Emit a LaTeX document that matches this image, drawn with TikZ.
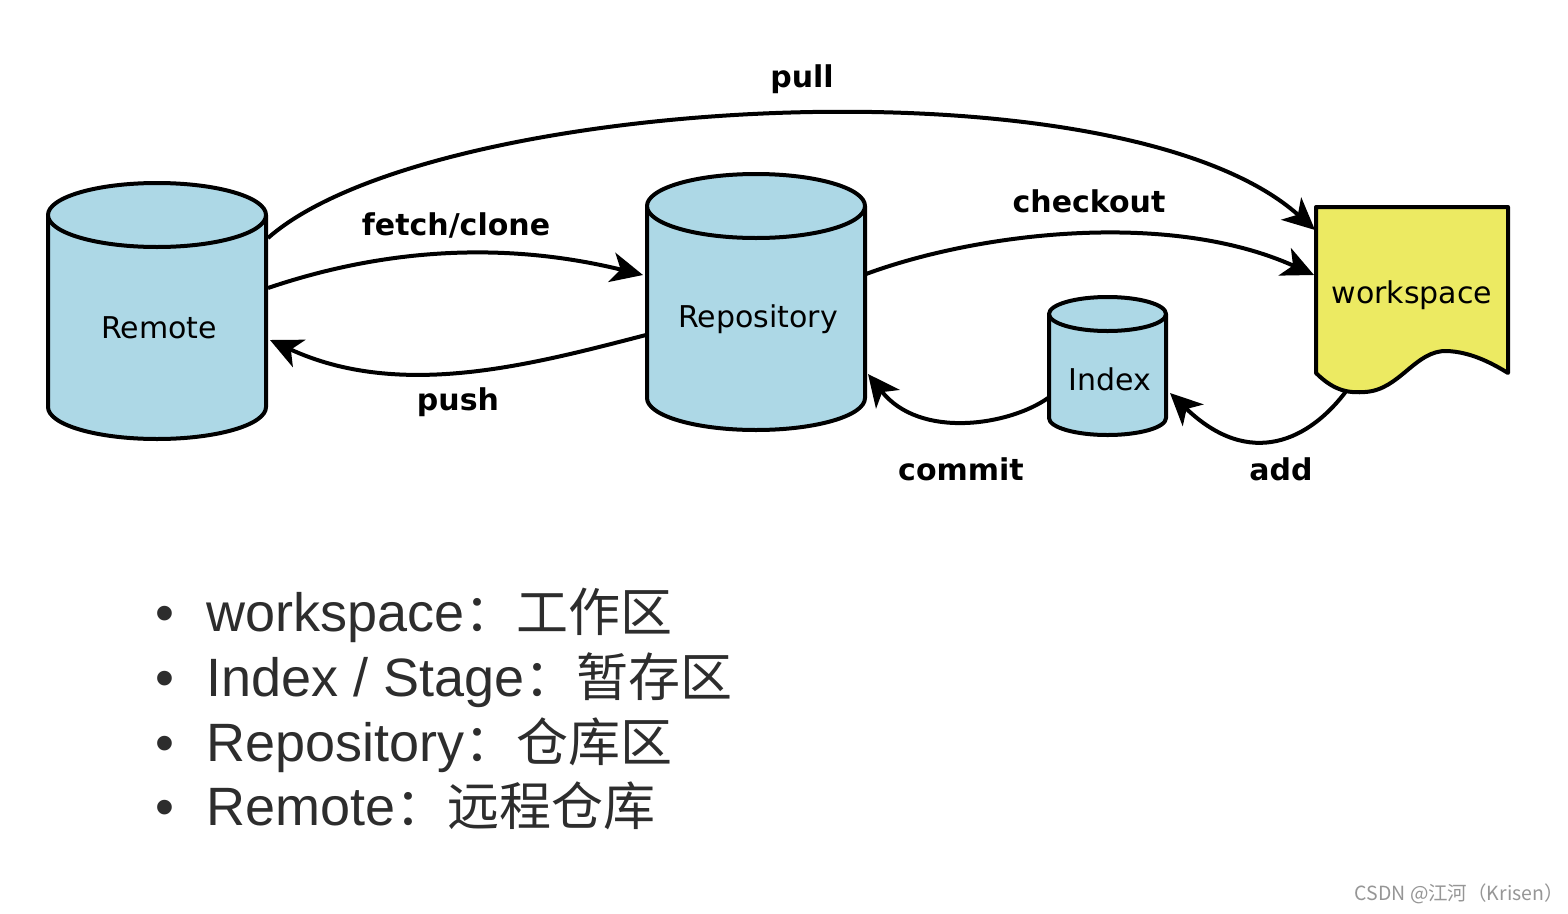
\documentclass[tikz,border=0pt]{standalone}
\usepackage{fontspec}
\setmainfont{DejaVu Sans}
\newfontfamily\arialf{Liberation Sans}
\newfontfamily\cjkf{Noto Sans CJK SC}
\usetikzlibrary{arrows.meta}
\definecolor{cylblue}{RGB}{173,216,230}
\definecolor{wsyellow}{RGB}{236,234,98}
\definecolor{listgray}{RGB}{45,45,45}
\definecolor{markgray}{RGB}{150,150,150}
\newcommand\drawcyl[5]{%
  \pgfmathsetmacro\cylcx{(#1+#2)/2}%
  \pgfmathsetmacro\cylrx{(#2-#1)/2}%
  \pgfmathsetmacro\cylkx{0.5523*\cylrx}%
  \pgfmathsetmacro\cylky{0.5523*#5}%
  \pgfmathsetmacro\cylbot{#4+#5}%
  \pgfmathsetmacro\cylbk{#4+\cylky}%
  \filldraw[cylshape] (#1,#3) -- (#1,#4) .. controls (#1,\cylbk) and (\cylcx-\cylkx,\cylbot) .. (\cylcx,\cylbot) .. controls (\cylcx+\cylkx,\cylbot) and (#2,\cylbk) .. (#2,#4) -- (#2,#3);
  \filldraw[cylshape] (\cylcx,#3) ellipse [x radius=\cylrx, y radius=#5];
}
\newcommand\cjkpart[1]{{\cjkf\fontsize{52}{60}\selectfont #1}}
\begin{document}
\begin{tikzpicture}[x=1pt,y=-1pt,line join=round,
  cylshape/.style={line width=4pt,draw=black,fill=cylblue},
  wsshape/.style={line width=4pt,draw=black,fill=wsyellow},
  flow/.style={line width=4pt,-{Stealth[length=32pt,width=30pt,inset=9pt]}},
  lbl/.style={font=\fontsize{30}{36}\selectfont\bfseries,inner sep=0pt},
  nodetext/.style={font=\fontsize{30}{36}\selectfont,inner sep=0pt},
  item/.style={anchor=base west,inner sep=0pt,font=\fontsize{54}{60}\selectfont\arialf,text=listgray},
  ]
\useasboundingbox[fill=white] (0,0) rectangle (1568,913);

% shapes
\drawcyl{48}{266}{215}{407}{32}
\drawcyl{647}{865}{206}{398}{32}
\drawcyl{1049}{1166}{314}{418}{17}
\filldraw[wsshape] (1316,207) -- (1508,207) -- (1508,373)
  .. controls (1490,362) and (1470,352) .. (1447,351)
  .. controls (1415,350) and (1400,390) .. (1365,392)
  .. controls (1350,393) and (1335,392) .. (1316,373) -- cycle;

% node texts
\node[nodetext] (remote) at (159,328) {Remote};
\node[nodetext] (repo) at (758,319) {Repository};
\node[nodetext] (index) at (1110,379) {Index};
\node[nodetext] (ws) at (1412,295) {workspace};

% connector end points
\coordinate (remote-pull) at (268,238);
\coordinate (remote-fetch) at (268,288);
\coordinate (remote-push) at (270,340);
\coordinate (repo-fetch) at (643,275);
\coordinate (repo-push) at (646,335);
\coordinate (repo-checkout) at (866,274);
\coordinate (repo-commit) at (868,374);
\coordinate (index-commit) at (1048,398);
\coordinate (index-add) at (1170,393);
\coordinate (ws-pull) at (1315,230);
\coordinate (ws-checkout) at (1314,275);
\coordinate (ws-add) at (1347,390);

% connectors
\draw[flow] (remote-pull) .. controls (430,95) and (1120,55) .. (ws-pull);
\draw[flow] (remote-fetch) .. controls (380,250) and (500,240) .. (repo-fetch);
\draw[flow] (repo-push) .. controls (530,365) and (400,400) .. (remote-push);
\draw[flow] (repo-checkout) .. controls (980,232) and (1170,210) .. (ws-checkout);
\draw[flow] (index-commit) .. controls (1010,425) and (920,440) .. (repo-commit);
\draw[flow] (ws-add) .. controls (1310,440) and (1250,470) .. (index-add);

% labels
\node[lbl] (lpull) at (802,79) {pull};
\node[lbl] (lfetch) at (456,225) {fetch/clone};
\node[lbl] (lpush) at (458,402) {push};
\node[lbl] (lcheckout) at (1089,201) {checkout};
\node[lbl] (lcommit) at (961,469) {commit};
\node[lbl] (ladd) at (1281,469) {add};

% list
\node[item] (l1) at (155,631) {•\hspace{32pt}workspace\cjkpart{：工作区}};
\node[item] (l2) at (155,696) {•\hspace{32pt}Index / Stage\cjkpart{：暂存区}};
\node[item] (l3) at (155,761) {•\hspace{32pt}Repository\cjkpart{：仓库区}};
\node[item] (l4) at (155,825) {•\hspace{32pt}Remote\cjkpart{：远程仓库}};

% watermark
\node[anchor=base east,inner sep=0pt,font=\cjkf\fontsize{19.5}{22}\selectfont,text=markgray] (mark) at (1564,900) {CSDN @江河（Krisen）};
\end{tikzpicture}
\end{document}
